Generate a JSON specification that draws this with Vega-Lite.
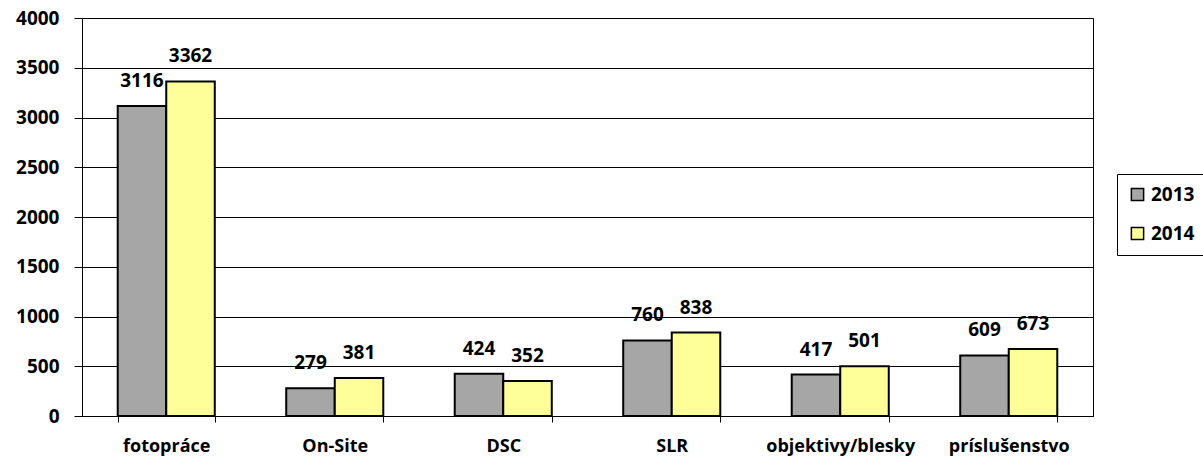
{
  "$schema": "https://vega.github.io/schema/vega-lite/v6.json",
  "width": 1011,
  "height": 398,
  "autosize": {"type": "none"},
  "padding": {"left": 82, "top": 18, "right": 110, "bottom": 44},
  "background": "white",
  "config": {
    "font": "Open Sans",
    "view": {"stroke": "#000", "strokeWidth": 1}
  },
  "data": {
    "values": [
      {"kategorie": "fotopráce", "rok": "2013", "hodnota": 3116},
      {"kategorie": "fotopráce", "rok": "2014", "hodnota": 3362},
      {"kategorie": "On-Site", "rok": "2013", "hodnota": 279},
      {"kategorie": "On-Site", "rok": "2014", "hodnota": 381},
      {"kategorie": "DSC", "rok": "2013", "hodnota": 424},
      {"kategorie": "DSC", "rok": "2014", "hodnota": 352},
      {"kategorie": "SLR", "rok": "2013", "hodnota": 760},
      {"kategorie": "SLR", "rok": "2014", "hodnota": 838},
      {"kategorie": "objektivy/blesky", "rok": "2013", "hodnota": 417},
      {"kategorie": "objektivy/blesky", "rok": "2014", "hodnota": 501},
      {"kategorie": "príslušenstvo", "rok": "2013", "hodnota": 609},
      {"kategorie": "príslušenstvo", "rok": "2014", "hodnota": 673}
    ]
  },
  "encoding": {
    "x": {
      "field": "kategorie",
      "type": "nominal",
      "sort": null,
      "title": null,
      "scale": {"paddingInner": 0.424, "paddingOuter": 0.212},
      "axis": {
        "labelAngle": 0,
        "labelFont": "Open Sans",
        "labelFontSize": 18,
        "labelFontWeight": "bold",
        "labelColor": "#000",
        "labelPadding": 15,
        "tickBand": "extent",
        "tickSize": 6,
        "tickColor": "#000",
        "domainColor": "#000",
        "grid": false
      }
    },
    "xOffset": {"field": "rok", "type": "nominal", "scale": {"paddingInner": 0}},
    "y": {
      "field": "hodnota",
      "type": "quantitative",
      "title": null,
      "scale": {"domain": [0, 4000]},
      "axis": {
        "values": [0, 500, 1000, 1500, 2000, 2500, 3000, 3500, 4000],
        "format": "d",
        "labelFont": "Open Sans",
        "labelFontSize": 19,
        "labelFontWeight": "bold",
        "labelColor": "#000",
        "labelPadding": 15,
        "tickSize": 8,
        "tickColor": "#000",
        "domainColor": "#000",
        "gridColor": "#000",
        "gridWidth": 1
      }
    }
  },
  "layer": [
    {
      "mark": {"type": "bar", "stroke": "#000", "strokeWidth": 2},
      "encoding": {
        "color": {
          "field": "rok",
          "type": "nominal",
          "title": null,
          "scale": {"domain": ["2013", "2014"], "range": ["#A6A6A6", "#FFFF99"]},
          "legend": {
            "orient": "none",
            "legendX": 1035,
            "legendY": 156,
            "direction": "vertical",
            "symbolType": "square",
            "symbolSize": 150,
            "symbolStrokeColor": "#000",
            "symbolStrokeWidth": 1.5,
            "symbolOpacity": 1,
            "labelFont": "Open Sans",
            "labelFontSize": 19,
            "labelFontWeight": "bold",
            "labelColor": "#000",
            "rowPadding": 19,
            "padding": 11,
            "strokeColor": "#000",
            "fillColor": "white"
          }
        }
      }
    },
    {
      "mark": {"type": "text", "baseline": "alphabetic", "dy": -19, "font": "Open Sans", "fontSize": 19, "fontWeight": "bold", "color": "#000"},
      "encoding": {
        "text": {"field": "hodnota", "type": "quantitative"}
      }
    }
  ]
}
